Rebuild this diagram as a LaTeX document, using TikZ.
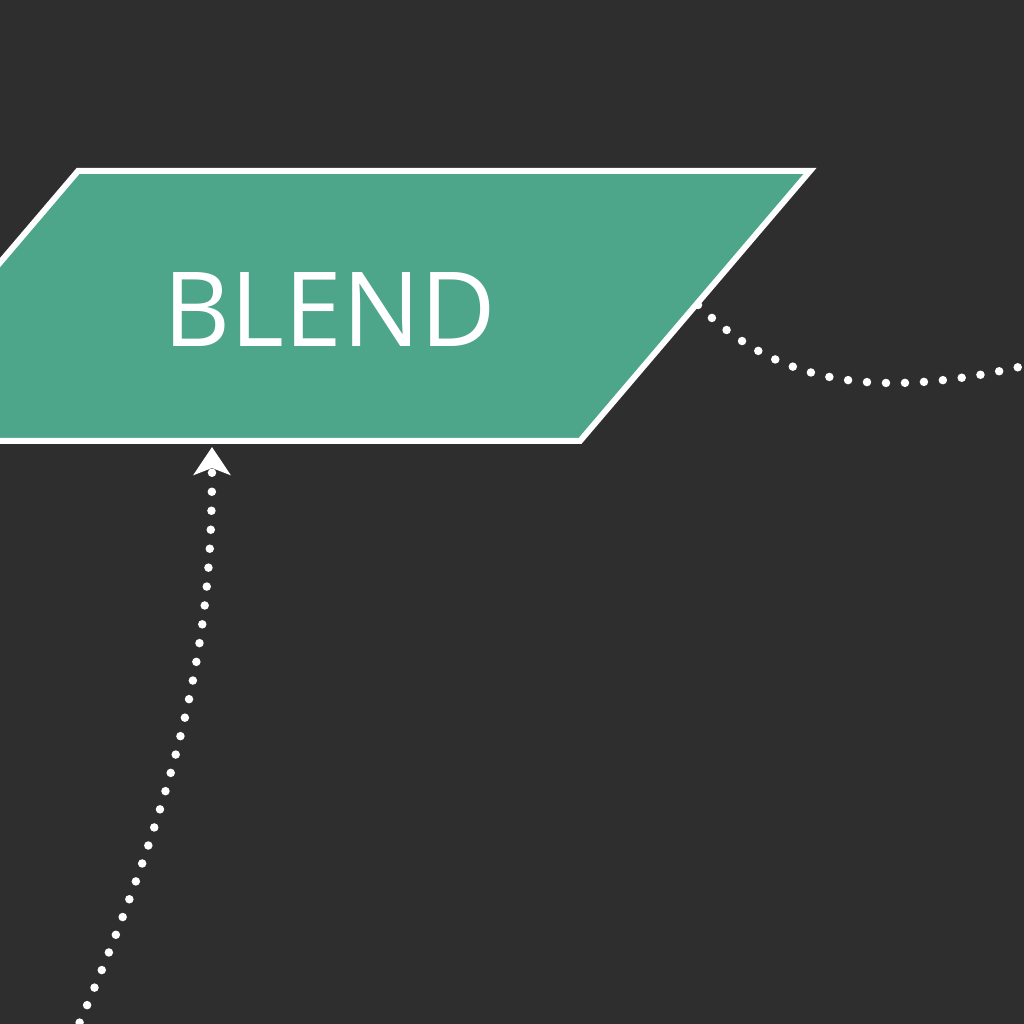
\documentclass[tikz,border=0pt]{standalone}
\usepackage{fontspec}
\setmainfont{Open Sans}
\usetikzlibrary{arrows.meta}
\usetikzlibrary{positioning}

\definecolor{bgdark}{HTML}{2E2E2E}
\definecolor{blendgreen}{HTML}{4DA58A}

\begin{document}
\begin{tikzpicture}[
        dotline/.style={white,line width=0.085cm,line cap=round,dash pattern=on 0pt off 0.19cm},
        blendshape/.style={fill=blendgreen,draw=white,line width=0.06cm,line join=miter}
    ]
            \useasboundingbox (0,0) rectangle (10.24,10.24);
            \clip (0,0) rectangle (10.24,10.24);
            \fill[bgdark] (0,0) rectangle (10.24,10.24);

            \coordinate (TL) at (0.78,8.53);
            \coordinate (TR) at (8.10,8.53);
            \coordinate (BR) at (5.80,5.83);
            \coordinate (BL) at (-1.52,5.83);

            \draw[blendshape] (TL)--(TR)--(BR)--(BL)--cycle;
            \node[anchor=base,text=white,inner sep=0pt,font=\fontsize{29.5pt}{30pt}\selectfont] (blend) at (3.30,6.77) {BLEND};

            % connector ends
            \coordinate (inlow) at (2.12,5.77);
            \coordinate (srclow) at (0.72,-0.16);
            \coordinate (outright) at (6.98,7.19);
            \coordinate (dstright) at (10.40,6.62);

            \draw[dotline,-{Stealth[length=0.28cm,width=0.37cm,inset=0.07cm]}]
                (srclow) .. controls (2.00,2.74) and (2.12,4.24) .. (inlow);
            \draw[dotline]
                (outright) .. controls (7.80,6.38) and (8.80,6.22) .. (dstright);
        \end{tikzpicture}
\end{document}
